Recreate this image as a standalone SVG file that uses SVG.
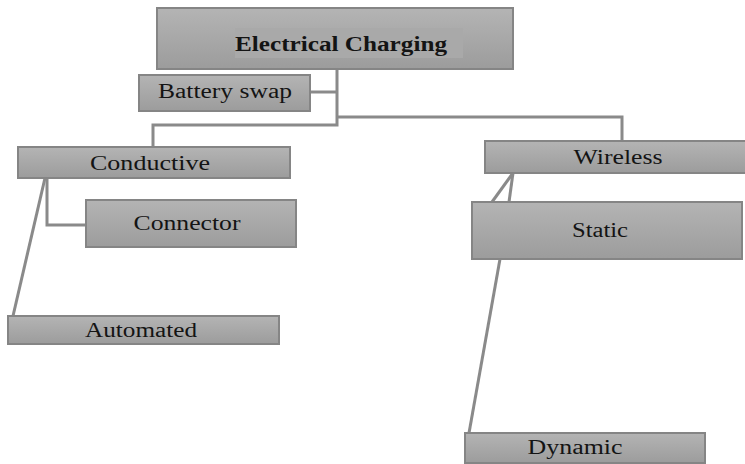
<svg xmlns="http://www.w3.org/2000/svg" width="745" height="464" viewBox="0 0 745 464">
<defs>
<linearGradient id="g" x1="0" y1="0" x2="0" y2="1">
<stop offset="0" stop-color="#b4b4b4"/>
<stop offset="1" stop-color="#9c9c9c"/>
</linearGradient>
</defs>
<style>
.box{fill:url(#g);stroke:#858585;stroke-width:2}
.t{font-family:"Liberation Serif","Times New Roman",serif;fill:#141414;text-anchor:middle;font-size:20px}
.c{fill:none;stroke:#8a8a8a;stroke-width:3}
</style>
<rect width="745" height="464" fill="#ffffff"/>
<g id="connectors">
<polyline class="c" points="337,69 337,125 153,125 153,147"/>
<polyline class="c" points="310,92 337,92"/>
<polyline class="c" points="337,117 622,117 622,141"/>
<polyline class="c" points="47,178 47,225 86,225"/>
<line class="c" x1="45" y1="178" x2="13" y2="316"/>
<line class="c" x1="513" y1="173" x2="492" y2="202"/>
<line class="c" x1="513" y1="173" x2="509" y2="202"/>
<line class="c" x1="500" y1="259" x2="469" y2="433"/>
</g>
<g id="electrical-charging">
<rect class="box" x="157" y="8" width="356" height="61"/>
<rect x="235" y="28" width="228" height="30" fill="#a9a9a9"/>
<text class="t" x="341" y="51" font-weight="bold" textLength="212" lengthAdjust="spacingAndGlyphs">Electrical Charging</text>
</g>
<g id="battery-swap">
<rect class="box" x="139" y="75" width="171" height="36"/>
<text class="t" x="225" y="98" textLength="134" lengthAdjust="spacingAndGlyphs">Battery swap</text>
</g>
<g id="conductive">
<rect class="box" x="18" y="147" width="272" height="31"/>
<text class="t" x="150" y="170" textLength="120" lengthAdjust="spacingAndGlyphs">Conductive</text>
</g>
<g id="connector">
<rect class="box" x="86" y="200" width="210" height="47"/>
<text class="t" x="187" y="230" textLength="107" lengthAdjust="spacingAndGlyphs">Connector</text>
</g>
<g id="automated">
<rect class="box" x="8" y="316" width="271" height="28"/>
<text class="t" x="141" y="337" textLength="112" lengthAdjust="spacingAndGlyphs">Automated</text>
</g>
<g id="wireless">
<rect class="box" x="485" y="141" width="262" height="32"/>
<text class="t" x="618" y="164" textLength="89" lengthAdjust="spacingAndGlyphs">Wireless</text>
</g>
<g id="static">
<rect class="box" x="472" y="202" width="270" height="57"/>
<text class="t" x="600" y="237" textLength="56" lengthAdjust="spacingAndGlyphs">Static</text>
</g>
<g id="dynamic">
<rect class="box" x="465" y="433" width="240" height="30"/>
<text class="t" x="575" y="454" textLength="95" lengthAdjust="spacingAndGlyphs">Dynamic</text>
</g>
</svg>
